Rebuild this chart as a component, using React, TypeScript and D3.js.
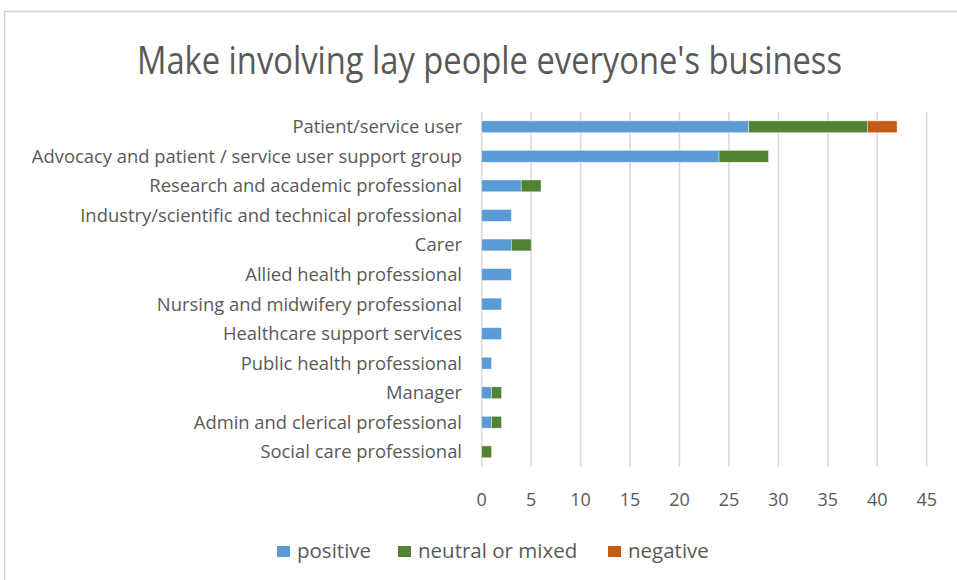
import React, { useRef, useEffect } from "react";
import * as d3 from "d3";

const categories = [
  "Patient/service user",
  "Advocacy and patient / service user support group",
  "Research and academic professional",
  "Industry/scientific and technical professional",
  "Carer",
  "Allied health professional",
  "Nursing and midwifery professional",
  "Healthcare support services",
  "Public health professional",
  "Manager",
  "Admin and clerical professional",
  "Social care professional",
];
const positive = [27, 24, 4, 3, 3, 3, 2, 2, 1, 1, 1, 0];
const neutral = [12, 5, 2, 0, 2, 0, 0, 0, 0, 1, 1, 1];
const negative = [3, 0, 0, 0, 0, 0, 0, 0, 0, 0, 0, 0];
const seriesNames = ["positive", "neutral or mixed", "negative"];
const seriesColors = ["#5b9bd5", "#548235", "#c55a11"];
const xTicks = [0, 5, 10, 15, 20, 25, 30, 35, 40, 45];

const W = 957;
const H = 580;
const FONT = "'Open Sans', 'Noto Sans', sans-serif";

export default function App() {
  const svgRef = useRef<SVGSVGElement>(null);

  useEffect(() => {
    const svg = d3.select(svgRef.current);
    svg.selectAll("*").remove();

    // chart frame
    svg
      .append("rect")
      .attr("x", 4.5)
      .attr("y", 11.5)
      .attr("width", W + 20)
      .attr("height", H + 20)
      .attr("fill", "#fff")
      .attr("stroke", "#d0d0d0")
      .attr("stroke-width", 1.5);

    svg
      .append("text")
      .attr("x", 137)
      .attr("y", 74)
      .attr("font-family", FONT)
      .attr("font-size", 38)
      .attr("textLength", 705)
      .attr("lengthAdjust", "spacingAndGlyphs")
      .attr("fill", "#595959")
      .text("Make involving lay people everyone's business");

    const x = d3.scaleLinear().domain([0, 45]).range([481.7, 926.7]);
    const y = d3
      .scaleBand()
      .domain(categories)
      .range([112, 466.6])
      .paddingInner(0.6)
      .paddingOuter(0.3);

    // gridlines
    svg
      .append("g")
      .selectAll("line")
      .data(xTicks)
      .join("line")
      .attr("x1", (d) => x(d))
      .attr("x2", (d) => x(d))
      .attr("y1", 112)
      .attr("y2", 466.6)
      .attr("stroke", "#d9d9d9")
      .attr("stroke-width", 1.5);

    // stacked bars
    const rows = categories.map((c, i) => ({
      cat: c,
      positive: positive[i],
      neutral: neutral[i],
      negative: negative[i],
    }));
    const stack = d3.stack<any>().keys(["positive", "neutral", "negative"]);
    const layers = stack(rows);

    svg
      .append("g")
      .selectAll("g")
      .data(layers)
      .join("g")
      .attr("fill", (_, i) => seriesColors[i])
      .selectAll("rect")
      .data((d) => d.filter((p) => p[1] - p[0] > 0))
      .join("rect")
      .attr("x", (d) => x(d[0]))
      .attr("width", (d) => x(d[1]) - x(d[0]))
      .attr("y", (d) => y(d.data.cat)!)
      .attr("height", y.bandwidth())
      .attr("stroke", "#ffffff")
      .attr("stroke-opacity", 0.5)
      .attr("stroke-width", 0.75);

    // category labels
    svg
      .append("g")
      .selectAll("text")
      .data(categories)
      .join("text")
      .attr("x", 462)
      .attr("y", (d) => y(d)! + y.bandwidth() / 2)
      .attr("dy", 6.5)
      .attr("text-anchor", "end")
      .attr("font-family", FONT)
      .attr("font-size", 18.4)
      .attr("fill", "#595959")
      .text((d) => d);

    // x tick labels
    svg
      .append("g")
      .selectAll("text")
      .data(xTicks)
      .join("text")
      .attr("x", (d) => x(d))
      .attr("y", 506)
      .attr("text-anchor", "middle")
      .attr("font-family", FONT)
      .attr("font-size", 18)
      .attr("fill", "#595959")
      .text((d) => d);

    // legend
    const legendX = [277, 398, 608];
    const lg = svg
      .append("g")
      .selectAll("g")
      .data(seriesNames)
      .join("g")
      .attr("transform", (_, i) => `translate(${legendX[i]},551.5)`);
    lg.append("rect")
      .attr("x", 0)
      .attr("y", -5.5)
      .attr("width", 13)
      .attr("height", 11)
      .attr("fill", (_, i) => seriesColors[i]);
    lg.append("text")
      .attr("x", 20)
      .attr("y", 6.5)
      .attr("font-family", FONT)
      .attr("font-size", 20.5)
      .attr("fill", "#595959")
      .text((d) => d);
  }, []);

  return (
    <svg
      ref={svgRef}
      width={W}
      height={H}
      style={{ position: "absolute", left: 0, top: 0, background: "#fff" }}
    ></svg>
  );
}
